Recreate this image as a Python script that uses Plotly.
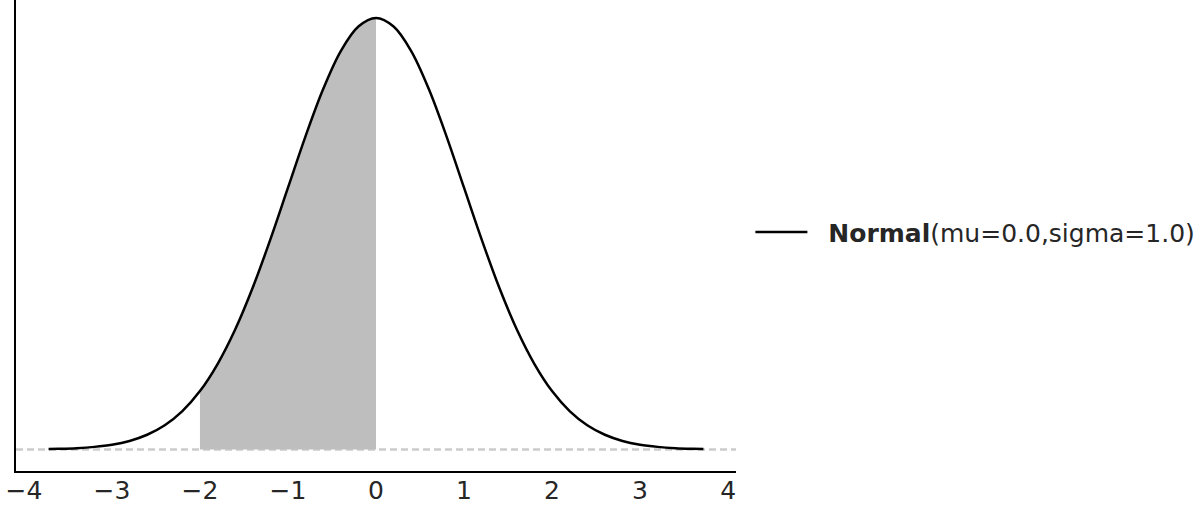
import plotly.graph_objects as go

# Values (density curve of Normal(mu=0, sigma=1))
x_vals = [-3.72, -3.6, -3.4, -3.2, -3.0, -2.8, -2.6, -2.4, -2.2, -2.0, -1.8, -1.6, -1.4, -1.2,
          -1.0, -0.8, -0.6, -0.4, -0.2, 0.0, 0.2, 0.4, 0.6, 0.8, 1.0, 1.2, 1.4, 1.6, 1.8,
          2.0, 2.2, 2.4, 2.6, 2.8, 3.0, 3.2, 3.4, 3.6, 3.72]
y_vals = [0.0004, 0.0006, 0.0012, 0.0024, 0.0044, 0.0079, 0.0136, 0.0224, 0.0355, 0.0540,
          0.0790, 0.1109, 0.1497, 0.1942, 0.2420, 0.2897, 0.3332, 0.3683, 0.3910, 0.3989,
          0.3910, 0.3683, 0.3332, 0.2897, 0.2420, 0.1942, 0.1497, 0.1109, 0.0790, 0.0540,
          0.0355, 0.0224, 0.0136, 0.0079, 0.0044, 0.0024, 0.0012, 0.0006, 0.0004]
shade_lo, shade_hi = -2.0, 0.0
tick_vals = [-4, -3, -2, -1, 0, 1, 2, 3, 4]
legend_name = "&nbsp;&nbsp;<b>Normal</b>(mu=0.0,sigma=1.0)"

fx = [x for x in x_vals if shade_lo <= x <= shade_hi]
fy = [y for x, y in zip(x_vals, y_vals) if shade_lo <= x <= shade_hi]

fig = go.Figure()
fig.add_trace(go.Scatter(x=fx, y=fy, mode="lines", fill="tozeroy", fillcolor="#bebebe",
                         line=dict(width=0, shape="spline"), showlegend=False, hoverinfo="skip"))
fig.add_trace(go.Scatter(x=x_vals, y=y_vals, mode="lines", name=legend_name,
                         line=dict(color="black", width=2.5, shape="spline")))

fig.add_shape(type="line", xref="paper", yref="y", x0=0, x1=1, y0=0, y1=0,
              line=dict(color="#cccccc", width=2.5, dash="7px,4px"), layer="below")

fig.update_layout(
    width=1202, height=510,
    margin=dict(l=16, r=466, t=0, b=39),
    paper_bgcolor="white", plot_bgcolor="white",
    font=dict(family="DejaVu Sans", size=25, color="#262626"),
    xaxis=dict(range=[-4.09, 4.09], tickvals=tick_vals, ticks="", showgrid=False,
               zeroline=False, showline=True, linecolor="black", linewidth=1.5,
               automargin=False, ticklabelstandoff=-4,
               tickfont=dict(size=25, color="#262626")),
    yaxis=dict(range=[-0.0199, 0.4155], showticklabels=False, ticks="", showgrid=False,
               zeroline=False, showline=True, linecolor="black", linewidth=1.5,
               automargin=False),
    legend=dict(x=1.02, y=0.507, xanchor="left", yanchor="middle", itemwidth=52,
                font=dict(size=25, color="#262626"), bgcolor="rgba(0,0,0,0)"),
    showlegend=True,
)

fig.write_html("out.html", config={"displayModeBar": False},
               post_script="document.body.style.margin='0';document.body.style.overflow='hidden';")
